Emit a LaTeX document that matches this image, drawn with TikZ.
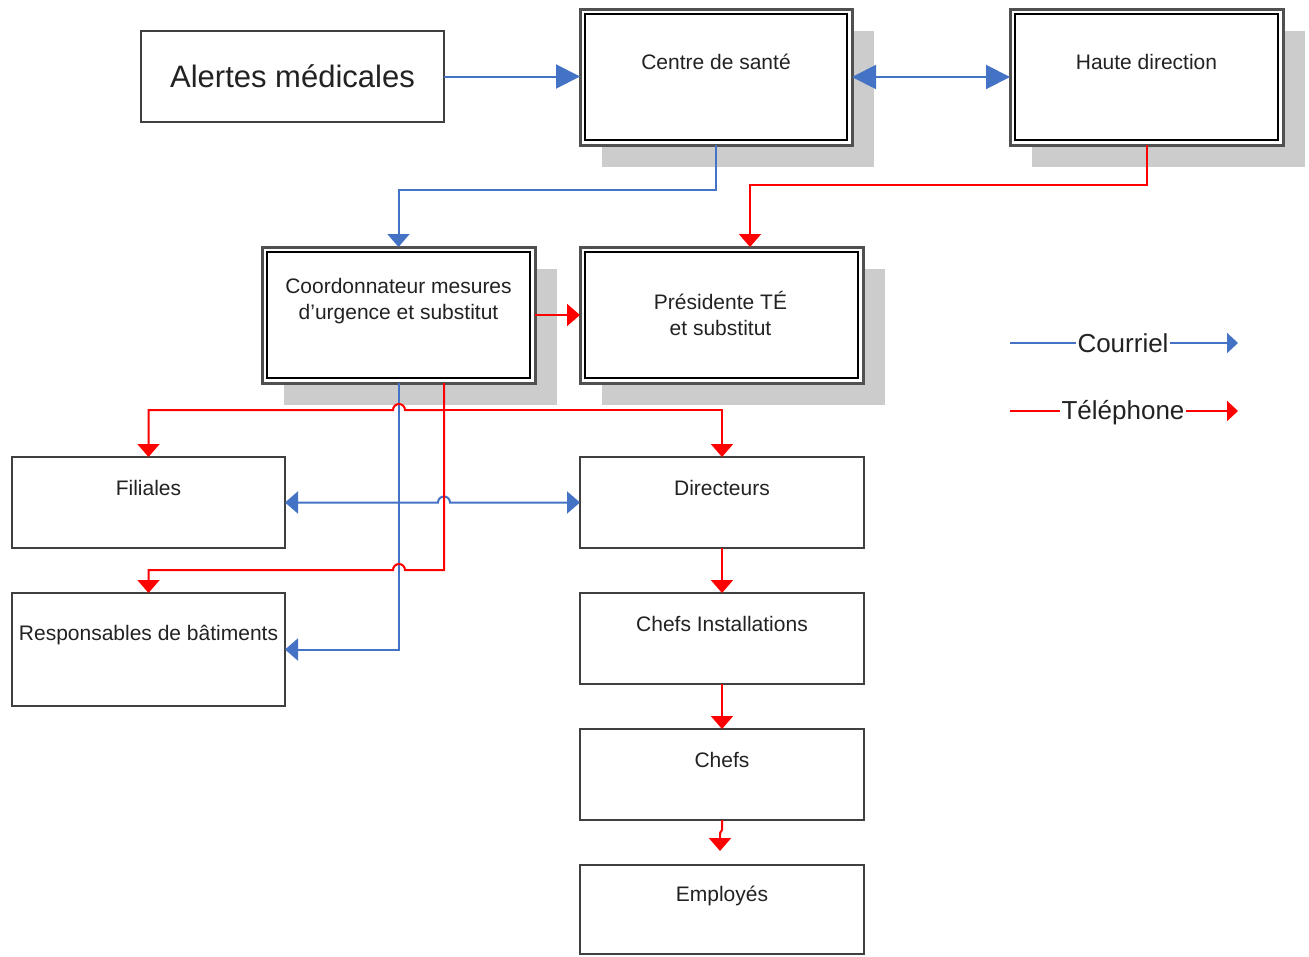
\documentclass[tikz,border=0pt]{standalone}
\usepackage{fontspec}
\setmainfont{Liberation Sans}
\usetikzlibrary{arrows.meta,calc,shadows}
\definecolor{mailblue}{RGB}{68,114,196}
\definecolor{phonered}{RGB}{255,0,0}
\definecolor{boxline}{RGB}{64,64,64}
\definecolor{frameline}{RGB}{80,80,80}
\definecolor{shadowgray}{RGB}{204,204,204}
\definecolor{textgray}{RGB}{34,34,34}
\tikzset{
  btip/.tip={Triangle[length=24pt,width=24pt]},
  stip/.tip={Triangle[length=13pt,width=22pt]},
  ltip/.tip={Triangle[length=11pt,width=20pt]},
}
\begin{document}
\begin{tikzpicture}[x=1pt,y=-1pt,
  box/.style={rectangle, draw=boxline, line width=2.5pt, fill=white,
    inner sep=0pt, outer sep=0pt, anchor=north west},
  framebox/.style={box, draw=frameline, line width=3pt,
    drop shadow={shadow xshift=22pt, shadow yshift=-22pt, fill=shadowgray, opacity=1}},
  innerframe/.style={draw=black, line width=1.3pt},
  lbl/.style={font=\fontsize{21}{26}\selectfont, text=textgray, align=center, inner sep=0pt},
  legendtxt/.style={font=\fontsize{26}{30}\selectfont, text=textgray, inner sep=1pt, anchor=base},
  mail/.style={draw=mailblue, line width=2pt},
  phone/.style={draw=phonered, line width=2pt},
]
\useasboundingbox[fill=white] (0,0) rectangle (1309,956);

% boxes
\node[box, minimum width=303pt, minimum height=91pt] (alertes) at (141,31) {};
\node[framebox, minimum width=272pt, minimum height=136pt] (centre) at (580,9) {};
\node[framebox, minimum width=273pt, minimum height=136pt] (haute) at (1010,9) {};
\node[framebox, minimum width=273pt, minimum height=136pt] (coord) at (262,247) {};
\node[framebox, minimum width=283pt, minimum height=136pt] (pres) at (580,247) {};
\node[box, minimum width=273pt, minimum height=91pt] (fil) at (12,457) {};
\node[box, minimum width=284pt, minimum height=91pt] (dir) at (580,457) {};
\node[box, minimum width=273pt, minimum height=113pt] (resp) at (12,593) {};
\node[box, minimum width=284pt, minimum height=91pt] (chinst) at (580,593) {};
\node[box, minimum width=284pt, minimum height=91pt] (chefs) at (580,729) {};
\node[box, minimum width=284pt, minimum height=89pt] (emp) at (580,865) {};

\foreach \n in {centre,haute,coord,pres}
  \draw[innerframe] ($(\n.north west)+(5,5)$) rectangle ($(\n.south east)+(-5,-5)$);

% labels
\node[lbl, font=\fontsize{31}{36}\selectfont] (talertes) at (alertes.center) {Alertes médicales};
\node[lbl] (tcentre) at ($(centre.north)+(0,53)$) {Centre de santé};
\node[lbl] (thaute) at ($(haute.north)+(0,53)$) {Haute direction};
\node[lbl] (tcoord) at ($(coord.north)+(0,54)$) {Coordonnateur mesures\\d’urgence et substitut};
\node[lbl] (tpres) at ($(pres.north)+(-1,66)$) {Présidente TÉ\\et substitut};
\node[lbl] (tfil) at ($(fil.north)+(0,31)$) {Filiales};
\node[lbl] (tdir) at ($(dir.north)+(0,31)$) {Directeurs};
\node[lbl] (tresp) at ($(resp.north)+(0,42)$) {Responsables de bâtiments};
\node[lbl] (tchinst) at ($(chinst.north)+(0,31)$) {Chefs Installations};
\node[lbl] (tchefs) at ($(chefs.north)+(0,31)$) {Chefs};
\node[lbl] (temp) at ($(emp.north)+(0,31)$) {Employés};

% e-mail connectors
\draw[mail, -btip] (alertes.east) -- (alertes.east -| centre.west);
\draw[mail, btip-btip] (centre.east) -- (haute.west);
\draw[mail, -stip] (centre.south) -- ++(0,45) -| (coord.north);
\draw[mail, -stip] (coord.south) |- (resp.east);
\draw[mail, stip-stip] (fil.east) -- (438,502.5)
  arc[start angle=180, end angle=0, radius=6pt] -- (dir.west);

% phone connectors
\draw[phone, -stip] (haute.south) -- ++(0,40) -| ($(pres.north)+(28.5,0)$);
\draw[phone, -stip] (coord.east) -- (pres.west);
\coordinate (rdrop) at ($(coord.south)+(45.5,0)$);
\draw[phone, -stip] (rdrop) -- (444,570) -- (405,570)
  arc[start angle=0, end angle=180, radius=6pt] -- (148.5,570) -- (resp.north);
\draw[phone, -stip] (444,410) -- (405,410)
  arc[start angle=0, end angle=180, radius=6pt] -- (148.5,410) -- (fil.north);
\draw[phone, -stip] (444,410) -| (dir.north);
\draw[phone, -stip] (dir.south) -- (chinst.north);
\draw[phone, -stip] (chinst.south) -- (chefs.north);
\draw[phone, -stip] (chefs.south) -- ++(0,10) -- ($(emp.north)+(-2,-32)$) -- ($(emp.north)+(-2,-14)$);

% legend
\node[legendtxt] (lmail) at (1123,352) {Courriel};
\coordinate (lmail0) at (1010,343);
\coordinate (lmail1) at (1238,343);
\draw[mail] (lmail0) -- (lmail0 -| lmail.west);
\draw[mail, -ltip] (lmail1 -| lmail.east) -- (lmail1);
\node[legendtxt] (lphone) at (1123,419) {Téléphone};
\coordinate (lphone0) at (1010,411);
\coordinate (lphone1) at (1238,411);
\draw[phone] (lphone0) -- (lphone0 -| lphone.west);
\draw[phone, -ltip] (lphone1 -| lphone.east) -- (lphone1);
\end{tikzpicture}
\end{document}
